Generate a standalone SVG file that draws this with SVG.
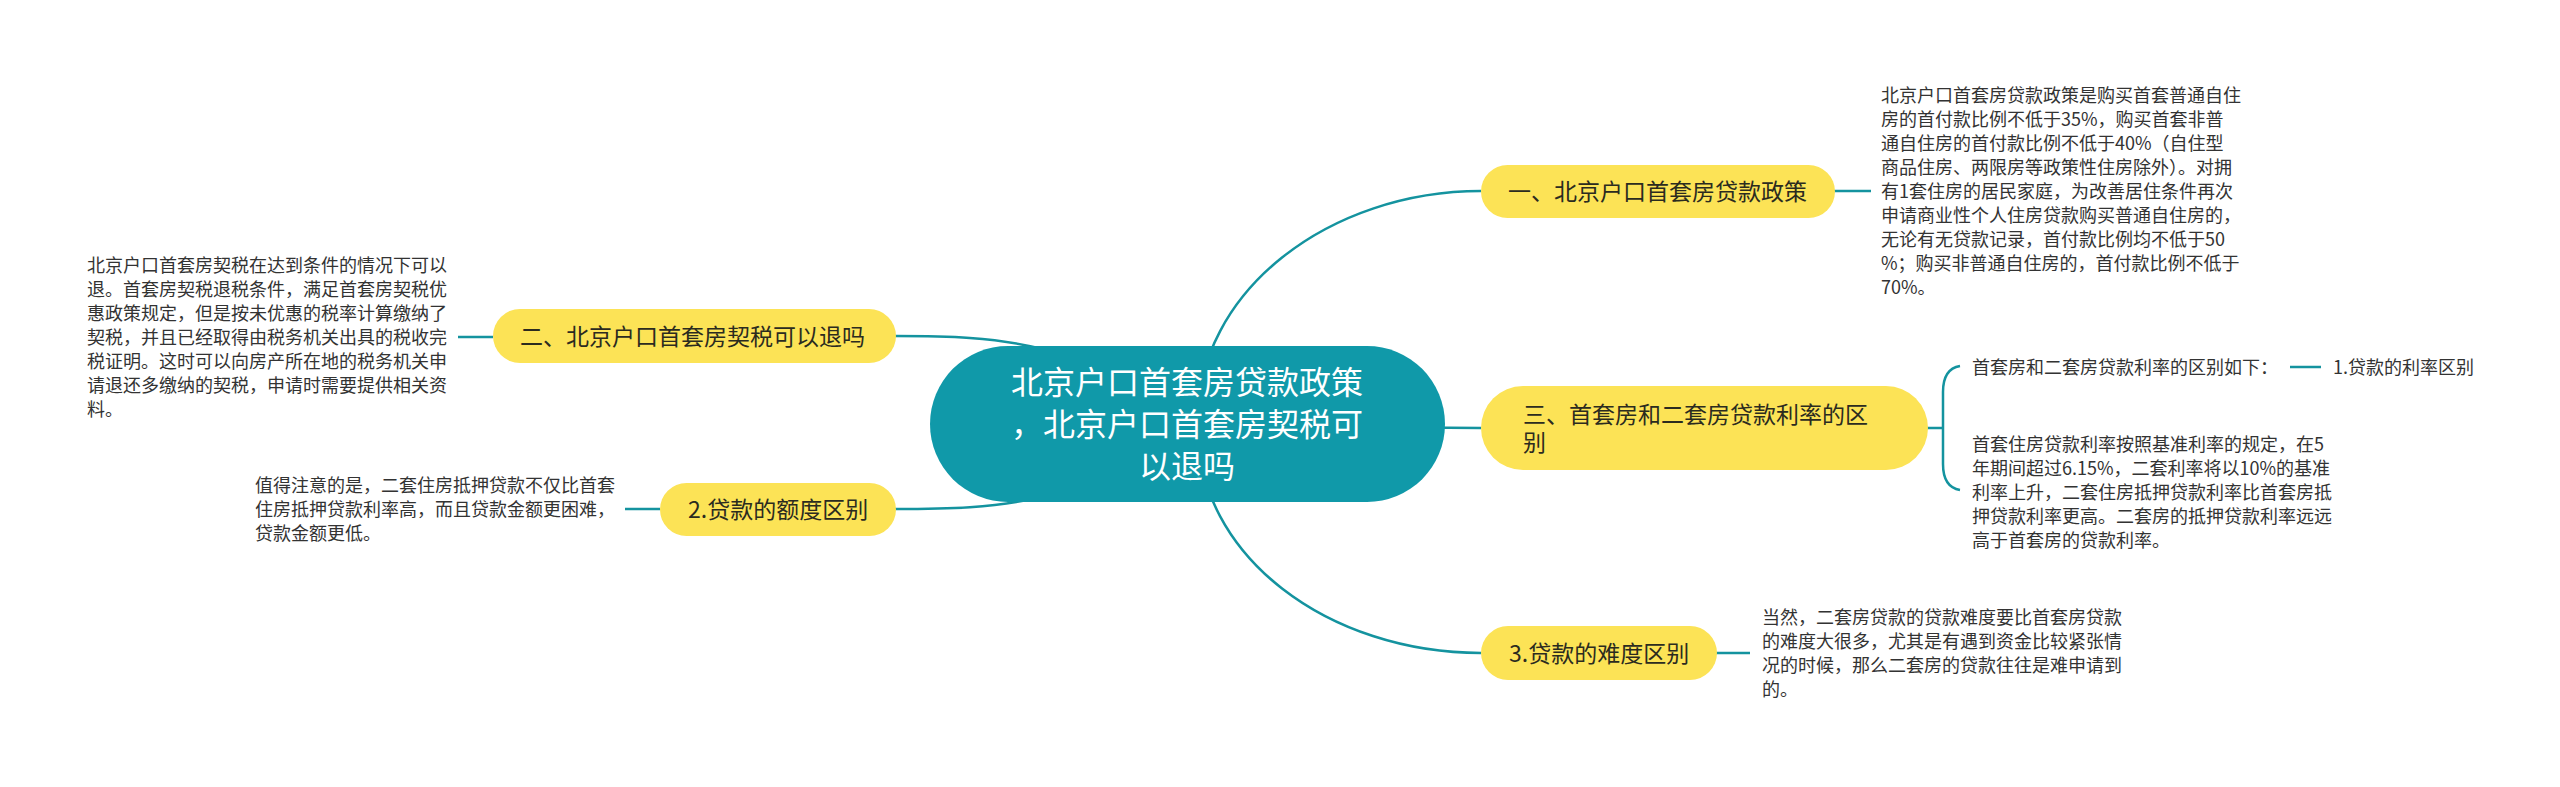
<svg xmlns="http://www.w3.org/2000/svg" width="2560" height="787" viewBox="0 0 2560 787">
<style>
.c{fill:none;stroke:#14939f;stroke-width:2.5}
.n{fill:#fce356}
.nt{font-family:"Noto Sans CJK SC","Noto Sans",sans-serif;font-size:23px;fill:#2b2b1f}
.d{font-family:"Noto Sans CJK SC","Noto Sans",sans-serif;font-size:18px;fill:#333}
.ct{font-family:"Noto Sans CJK SC","Noto Sans",sans-serif;font-size:32px;fill:#fff;text-anchor:middle}
</style>
<rect width="2560" height="787" fill="#fff"/>
<g id="connectors">
<path class="c" d="M1197,424 C1197,290 1330,191 1481,191"/>
<path class="c" d="M1197,424 C1197,558 1330,653 1481,653"/>
<path class="c" d="M1190,424 C1330,424 1350,428 1481,428"/>
<path class="c" d="M895,336 C1000,336 1080,340 1187,424"/>
<path class="c" d="M895,509 C1000,509 1080,506 1187,424"/>
<path class="c" d="M1834,191 L1871,191"/>
<path class="c" d="M458,337 L493,337"/>
<path class="c" d="M625,509 L660,509"/>
<path class="c" d="M1715,653 L1750,653"/>
<path class="c" d="M1927,428 L1943,428 M1960,366 C1948,368 1943,378 1943,392 L1943,464 C1943,478 1948,488 1960,490"/>
<path class="c" d="M2290,367 L2321,367"/>
</g>
<g id="central">
<rect x="930" y="346" width="515" height="156" rx="78" fill="#1099a9"/>
<text class="ct"><tspan x="1187" y="394">北京户口首套房贷款政策</tspan><tspan x="1187" y="436">，北京户口首套房契税可</tspan><tspan x="1187" y="478">以退吗</tspan></text>
</g>
<g id="node1">
<rect class="n" x="1481" y="165" width="354" height="53" rx="26.5"/>
<text class="nt" x="1508" y="200">一、北京户口首套房贷款政策</text>
</g>
<g id="node1-text">
<text class="d"><tspan x="1881" y="102">北京户口首套房贷款政策是购买首套普通自住</tspan><tspan x="1881" y="126">房的首付款比例不低于35%，购买首套非普</tspan><tspan x="1881" y="150">通自住房的首付款比例不低于40%（自住型</tspan><tspan x="1881" y="174">商品住房、两限房等政策性住房除外）。对拥</tspan><tspan x="1881" y="198">有1套住房的居民家庭，为改善居住条件再次</tspan><tspan x="1881" y="222">申请商业性个人住房贷款购买普通自住房的，</tspan><tspan x="1881" y="246">无论有无贷款记录，首付款比例均不低于50</tspan><tspan x="1881" y="270">%；购买非普通自住房的，首付款比例不低于</tspan><tspan x="1881" y="294">70%。</tspan></text>
</g>
<g id="node2">
<rect class="n" x="493" y="309" width="403" height="54" rx="27"/>
<text class="nt" x="520" y="345">二、北京户口首套房契税可以退吗</text>
</g>
<g id="node2-text">
<text class="d"><tspan x="87" y="272">北京户口首套房契税在达到条件的情况下可以</tspan><tspan x="87" y="296">退。首套房契税退税条件，满足首套房契税优</tspan><tspan x="87" y="320">惠政策规定，但是按未优惠的税率计算缴纳了</tspan><tspan x="87" y="344">契税，并且已经取得由税务机关出具的税收完</tspan><tspan x="87" y="368">税证明。这时可以向房产所在地的税务机关申</tspan><tspan x="87" y="392">请退还多缴纳的契税，申请时需要提供相关资</tspan><tspan x="87" y="416">料。</tspan></text>
</g>
<g id="node3">
<rect class="n" x="1481" y="386" width="447" height="84" rx="42"/>
<text class="nt"><tspan x="1523" y="423">三、首套房和二套房贷款利率的区</tspan><tspan x="1523" y="451">别</tspan></text>
</g>
<g id="node3-text1">
<text class="d" x="1972" y="374">首套房和二套房贷款利率的区别如下：</text>
</g>
<g id="node3-sub">
<text class="d" x="2333" y="374">1.贷款的利率区别</text>
</g>
<g id="node3-text2">
<text class="d"><tspan x="1972" y="451">首套住房贷款利率按照基准利率的规定，在5</tspan><tspan x="1972" y="475">年期间超过6.15%，二套利率将以10%的基准</tspan><tspan x="1972" y="499">利率上升，二套住房抵押贷款利率比首套房抵</tspan><tspan x="1972" y="523">押贷款利率更高。二套房的抵押贷款利率远远</tspan><tspan x="1972" y="547">高于首套房的贷款利率。</tspan></text>
</g>
<g id="node4">
<rect class="n" x="660" y="483" width="236" height="53" rx="26.5"/>
<text class="nt" x="688" y="518">2.贷款的额度区别</text>
</g>
<g id="node4-text">
<text class="d"><tspan x="255" y="492">值得注意的是，二套住房抵押贷款不仅比首套</tspan><tspan x="255" y="516">住房抵押贷款利率高，而且贷款金额更困难，</tspan><tspan x="255" y="540">贷款金额更低。</tspan></text>
</g>
<g id="node5">
<rect class="n" x="1481" y="626" width="236" height="54" rx="27"/>
<text class="nt" x="1509" y="662">3.贷款的难度区别</text>
</g>
<g id="node5-text">
<text class="d"><tspan x="1762" y="624">当然，二套房贷款的贷款难度要比首套房贷款</tspan><tspan x="1762" y="648">的难度大很多，尤其是有遇到资金比较紧张情</tspan><tspan x="1762" y="672">况的时候，那么二套房的贷款往往是难申请到</tspan><tspan x="1762" y="696">的。</tspan></text>
</g>
</svg>
